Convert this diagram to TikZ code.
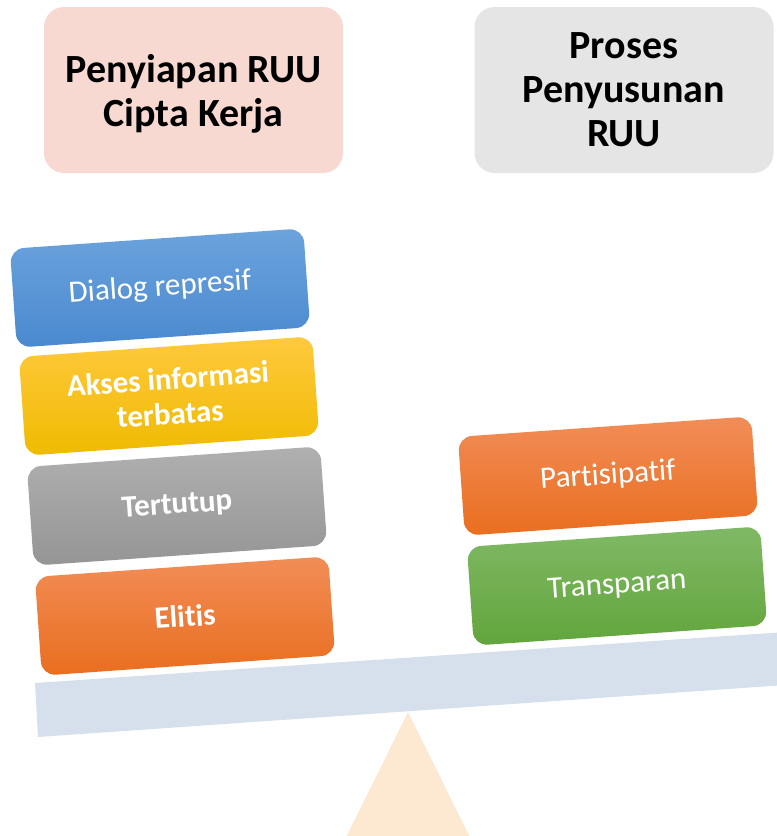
\documentclass[tikz,border=0pt]{standalone}
\usepackage{fontspec}
\setmainfont{Carlito}[Ligatures=NoCommon]
\definecolor{pinkbg}{HTML}{F8D9D2}
\definecolor{greybg}{HTML}{E5E5E5}
\definecolor{beamcol}{HTML}{D6E0ED}
\definecolor{basecol}{HTML}{FDE9D1}
\definecolor{bluetop}{HTML}{6CA3DD}
\definecolor{bluebot}{HTML}{4A89CF}
\definecolor{yeltop}{HTML}{FFC93E}
\definecolor{yelbot}{HTML}{EFBB00}
\definecolor{graytop}{HTML}{B0B0B0}
\definecolor{graybot}{HTML}{959595}
\definecolor{orgtop}{HTML}{F28D58}
\definecolor{orgbot}{HTML}{E96E1F}
\definecolor{grntop}{HTML}{80B966}
\definecolor{grnbot}{HTML}{62A53B}

\begin{document}
\begin{tikzpicture}[x=1pt, y=-1pt,
    titlebox/.style={rectangle, rounded corners=20pt, minimum width=299pt, minimum height=166pt, align=center, text depth=0pt, font=\fontsize{40}{44}\selectfont\bfseries},
    block/.style={rectangle, rounded corners=14pt, minimum width=294pt, minimum height=99pt, rotate=4, align=center, text=white, inner sep=0pt, font=\fontsize{31}{35}\selectfont},
    boldblock/.style={block, font=\fontsize{31}{35}\selectfont\bfseries}]
    \useasboundingbox (0,0) rectangle (777,836);
    \clip (0,0) rectangle (777,836);

    % Title boxes
    \node[titlebox, fill=pinkbg] (PREP) at (193.5,90) {Penyiapan RUU\\Cipta Kerja};
    \node[titlebox, fill=greybg] (PROC) at (624,90) {Proses\\Penyusunan\\RUU};

    % Fulcrum and beam
    \fill[basecol] (408,712) -- (501,900) -- (315,900) -- cycle;
    \fill[beamcol] (35,683) -- (800,631) -- (800,684) -- (38,737) -- cycle;

    % Left pile
    \node[block, top color=bluetop, bottom color=bluebot] (DIALOG) at (160,288) {Dialog represif};
    \node[boldblock, top color=yeltop, bottom color=yelbot] (AKSES) at (169,396) {Akses informasi\\terbatas};
    \node[boldblock, top color=graytop, bottom color=graybot] (TUTUP) at (177,506) {Tertutup};
    \node[boldblock, top color=orgtop, bottom color=orgbot] (ELITIS) at (185,616) {Elitis};

    % Right pile
    \node[block, top color=orgtop, bottom color=orgbot] (PARTI) at (608,476) {Partisipatif};
    \node[block, top color=grntop, bottom color=grnbot] (TRANS) at (617,586) {Transparan};
\end{tikzpicture}
\end{document}
